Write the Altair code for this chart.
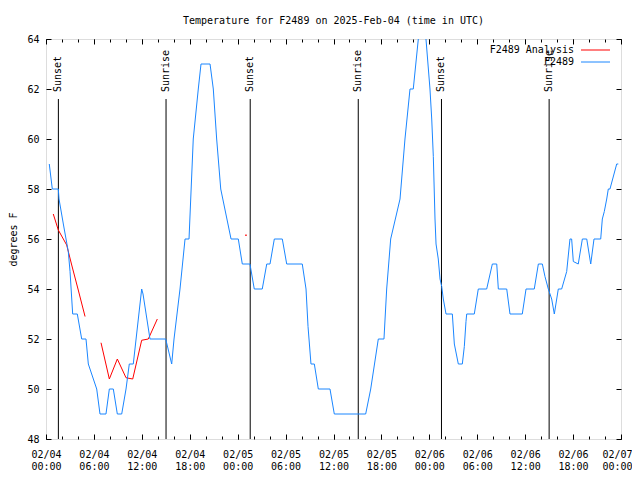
import altair as alt
import pandas as pd

FONT = "DejaVu Sans Mono"

# Observed temperature (F2489), hours since 2025-02-04 00:00 UTC
obs_hours = [0.41, 0.79, 1.54, 1.63, 2.17, 2.79, 3.01, 3.34, 3.92, 4.47, 5.01, 5.30,
             6.35, 6.76, 7.51, 7.93, 8.43, 8.93, 9.48, 10.02, 10.43, 10.93, 11.98, 12.15,
             13.02, 14.99, 15.74, 16.03, 16.78, 17.41, 17.91, 18.44, 19.07, 19.41, 20.54,
             20.95, 21.37, 21.88, 23.17, 24.08, 24.58, 25.54, 26.08, 27.08, 27.64, 28.05,
             28.59, 29.59, 30.14, 32.09, 32.56, 32.81, 33.18, 33.60, 34.10, 35.56, 36.10,
             40.03, 40.66, 41.61, 42.32, 42.66, 43.16, 44.33, 44.95, 45.58, 45.99, 46.62,
             46.96, 47.21, 47.58, 48.08, 48.30, 48.50, 48.71, 48.84, 49.12, 49.34, 49.55,
             49.75, 50.09, 50.88, 51.13, 51.63, 52.13, 52.38, 52.59, 52.68, 53.63, 54.13,
             55.18, 55.89, 56.44, 56.64, 57.69, 58.10, 59.64, 60.11, 61.14, 61.65, 62.15,
             62.48, 62.90, 63.32, 63.65, 64.15, 64.57, 65.20, 65.61, 65.82, 66.03, 66.65,
             67.16, 67.71, 68.21, 68.62, 69.46, 69.66, 69.91, 70.21, 70.41, 70.62, 71.46,
             71.66]
obs_temps = [59.0, 58.0, 58.0, 57.6, 56.6, 55.5, 54.7, 53.0, 53.0, 52.0, 52.0, 51.0,
             50.0, 49.0, 49.0, 50.0, 50.0, 49.0, 49.0, 50.0, 51.0, 51.0, 54.0, 53.8,
             52.0, 52.0, 51.0, 52.0, 54.0, 56.0, 56.0, 60.0, 62.0, 63.0, 63.0,
             62.0, 60.0, 58.0, 56.0, 56.0, 55.0, 55.0, 54.0, 54.0, 55.0, 55.0,
             56.0, 56.0, 55.0, 55.0, 54.0, 52.5, 51.0, 51.0, 50.0, 50.0, 49.0,
             49.0, 50.0, 52.0, 52.0, 54.0, 56.0, 57.6, 60.0, 62.0, 62.0, 64.0,
             65.0, 65.0, 64.0, 62.0, 60.8, 59.3, 56.8, 55.8, 55.2, 54.4, 54.1,
             53.6, 53.0, 53.0, 51.8, 51.0, 51.0, 51.7, 52.7, 53.0, 53.0, 54.0,
             54.0, 55.0, 55.0, 54.0, 54.0, 53.0, 53.0, 54.0, 54.0, 55.0, 55.0,
             54.5, 54.0, 53.6, 53.0, 54.0, 54.0, 54.7, 56.0, 56.0, 55.1, 55.0,
             56.0, 56.0, 55.0, 56.0, 56.0, 56.8, 57.1, 57.6, 58.0, 58.0, 59.0,
             59.0]

# Analysis (red), split into segments
ana_hours = [0.91, 1.54, 2.59, 3.22, 4.04, 4.89,
             6.89, 7.93, 8.93, 10.02, 10.86, 11.98, 12.81, 13.94]
ana_temps = [57.0, 56.36, 55.76, 54.96, 53.96, 52.9,
             51.85, 50.4, 51.2, 50.45, 50.4, 51.95, 52.0, 52.8]
ana_segs = [1, 1, 1, 1, 1, 1, 2, 2, 2, 2, 2, 2, 2, 2]
ana_dot_hours = [25.04]
ana_dot_temps = [56.15]

# Sun events
sun_hours = [1.55, 15.03, 25.57, 39.1, 49.52, 63.0]
sun_labels = ["Sunset", "Sunrise", "Sunset", "Sunrise", "Sunset", "Sunrise"]

x_major = list(range(0, 73, 6))
x_labels_main = list(range(0, 67, 6))
x_labels_last = [72]
x_minor = list(range(0, 73, 2))
y_ticks = list(range(48, 65, 2))

obs = pd.DataFrame({"h": obs_hours, "t": obs_temps})
ana = pd.DataFrame({"h": ana_hours, "t": ana_temps, "seg": ana_segs})
dot = pd.DataFrame({"h": ana_dot_hours, "t": ana_dot_temps})
sun = pd.DataFrame({"h": sun_hours, "label": sun_labels})

W, H = 575, 400
xs = alt.Scale(domain=[0, 72], nice=False, zero=False)
ys = alt.Scale(domain=[48, 64], nice=False, zero=False)

BLUE = "#1a86ff"
RED = "#ff0000"


def tick_axis(orient, values, size, offset):
    return alt.Axis(orient=orient, values=values, tickSize=size, offset=offset,
                    labels=False, domain=False, grid=False, title=None,
                    tickColor="black", tickWidth=1)


label_expr = ("['02/0' + (4 + floor(datum.value / 24)), "
              "(datum.value % 24 < 10 ? '0' : '') + (datum.value % 24) + ':00']")


def label_axis(values, flush):
    kw = dict(orient="bottom", values=values, ticks=False, domain=False, grid=False,
              labelExpr=label_expr, labelFont=FONT, labelFontSize=10, labelColor="black",
              labelPadding=10, labelBaseline="top", labelLineHeight=12,
              labelOverlap=False, title=None)
    if flush:
        kw.update(labelFlush=True, labelFlushOffset=11)
    else:
        kw.update(labelFlush=False)
    return alt.Axis(**kw)


blue = alt.Chart(obs).mark_line(color=BLUE, strokeWidth=1, clip=True).encode(
    x=alt.X("h:Q", scale=xs, axis=label_axis(x_labels_main, False)),
    y=alt.Y("t:Q", scale=ys, axis=alt.Axis(
        orient="left", values=y_ticks, ticks=False, domain=False, grid=False,
        labelFont=FONT, labelFontSize=10, labelColor="black", labelPadding=7,
        labelFlush=False, labelOverlap=False,
        title="degrees F", titleFont=FONT, titleFontSize=10, titleFontWeight="normal",
        titleColor="black", titleX=-30, titleY=200, titleAngle=270,
        titleAlign="center", titleBaseline="alphabetic")),
)

red = alt.Chart(ana).mark_line(color=RED, strokeWidth=1, clip=True).encode(
    x=alt.X("h:Q", scale=xs, axis=tick_axis("top", x_minor, 3, -H)),
    y=alt.Y("t:Q", scale=ys, axis=tick_axis("right", y_ticks, 5, -W)),
    detail="seg:N",
)

red_dot = alt.Chart(dot).mark_square(color=RED, size=2, opacity=1).encode(
    x=alt.X("h:Q", scale=xs, axis=tick_axis("bottom", x_major, 5, -H)),
    y=alt.Y("t:Q", scale=ys, axis=None),
)

rules = alt.Chart(sun).mark_rule(color="black", strokeWidth=1).encode(
    x=alt.X("h:Q", scale=xs, axis=tick_axis("bottom", x_minor, 3, -H)),
    y=alt.value(60),
    y2=alt.value(H),
)

y_right = alt.Chart(sun).mark_rule(opacity=0).encode(
    x=alt.X("h:Q", scale=xs, axis=tick_axis("top", x_major, 5, -H)),
    y=alt.Y("hh:Q", scale=ys, axis=tick_axis("left", y_ticks, 5, -W)),
).transform_calculate(hh="56")

texts = alt.Chart(sun).mark_text(angle=270, align="left", baseline="middle",
                                 font=FONT, fontSize=10, color="black").encode(
    x=alt.X("h:Q", scale=xs, axis=label_axis(x_labels_last, True)),
    y=alt.value(53),
    text="label:N",
)

leg_text1 = alt.Chart(pd.DataFrame({"s": ["F2489 Analysis"]})).mark_text(
    align="right", baseline="middle", font=FONT, fontSize=10, color="black").encode(
    x=alt.value(528), y=alt.value(11), text="s:N")
leg_text2 = alt.Chart(pd.DataFrame({"s": ["F2489"]})).mark_text(
    align="right", baseline="middle", font=FONT, fontSize=10, color="black").encode(
    x=alt.value(528), y=alt.value(23), text="s:N")
leg_line1 = alt.Chart(pd.DataFrame({"s": [1]})).mark_rule(color=RED, strokeWidth=1).encode(
    x=alt.value(535), x2=alt.value(564), y=alt.value(11))
leg_line2 = alt.Chart(pd.DataFrame({"s": [1]})).mark_rule(color=BLUE, strokeWidth=1).encode(
    x=alt.value(535), x2=alt.value(564), y=alt.value(23))

chart = alt.layer(
    rules, y_right, texts, red, red_dot, blue,
    leg_text1, leg_text2, leg_line1, leg_line2,
).resolve_axis(x="independent", y="independent").properties(
    width=W, height=H,
    title=alt.Title("Temperature for F2489 on 2025-Feb-04 (time in UTC)",
                    font=FONT, fontSize=10, fontWeight="normal", color="black",
                    anchor="middle", offset=8),
    autosize=alt.AutoSizeParams(type="none"),
    padding={"left": 38, "top": 31, "right": 11, "bottom": 32},
).configure_view(stroke="black", strokeWidth=1).configure(background="white")

chart.save("out.html", embed_options={"renderer": "svg", "actions": False})
